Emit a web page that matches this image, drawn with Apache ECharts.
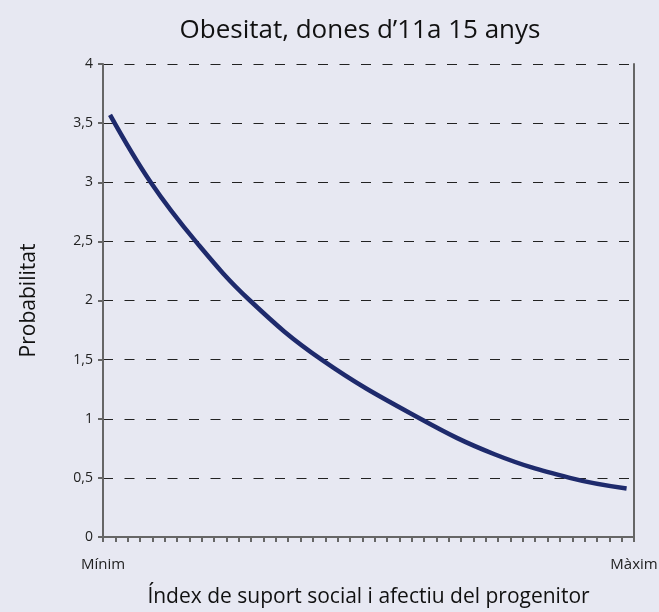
<!DOCTYPE html>
<html>
<head>
<meta charset="utf-8">
<script src="https://cdn.jsdelivr.net/npm/echarts@6/dist/echarts.min.js"></script>
<style>
  html, body { margin: 0; padding: 0; background: #e7e8f2; }
  #chart { width: 659px; height: 612px; }
</style>
</head>
<body>
<div id="chart"></div>
<script>
  // valors llegits de la figura (x en unitats de marca de l'eix, 0 = Mínim, 43 = Màxim)
  const curveX = [0.57, 3.86, 7.51, 11.9, 17.7, 25.7, 31.7, 37.8, 42.4];
  const curveY = [3.57, 3.0, 2.5, 2.0, 1.5, 1.0, 0.7, 0.5, 0.41];
  const xEndLabels = ['Mínim', 'Màxim'];
  const xTickCount = 43;
  const yTicks = [0, 0.5, 1, 1.5, 2, 2.5, 3, 3.5, 4];

  const chart = echarts.init(document.getElementById('chart'));
  const font = 'Open Sans';

  const option = {
    backgroundColor: '#e7e8f2',
    animation: false,
    title: {
      text: 'Obesitat, dones d\u201911a 15 anys',
      left: 355,
      textAlign: 'center',
      top: 13,
      textStyle: { fontFamily: font, fontSize: 26, fontWeight: 'normal', color: '#111' }
    },
    grid: { left: 103, right: 25, top: 64, bottom: 75, outerBoundsMode: 'none' },
    xAxis: {
      type: 'value',
      min: 0,
      max: xTickCount,
      interval: 1,
      name: 'Índex de suport social i afectiu del progenitor',
      nameLocation: 'middle',
      nameGap: 50,
      nameTextStyle: { fontFamily: font, fontSize: 21, color: '#111' },
      axisLine: { lineStyle: { color: '#666', width: 2 } },
      axisTick: { length: 5, lineStyle: { color: '#666', width: 2 } },
      splitLine: { show: false },
      axisLabel: {
        margin: 20,
        fontFamily: font,
        fontSize: 15,
        color: '#222',
        showMinLabel: true,
        showMaxLabel: true,
        formatter: v => v === 0 ? xEndLabels[0] : (v === xTickCount ? xEndLabels[1] : '')
      }
    },
    yAxis: [{
      type: 'value',
      min: yTicks[0],
      max: yTicks[yTicks.length - 1],
      interval: 0.5,
      name: 'Probabilitat',
      nameLocation: 'middle',
      nameRotate: 90,
      nameGap: 63,
      nameTextStyle: { fontFamily: font, fontSize: 21, color: '#111' },
      axisLine: { show: true, lineStyle: { color: '#666', width: 2 } },
      axisTick: { show: true, length: 5, lineStyle: { color: '#666', width: 2 } },
      axisLabel: {
        margin: 10,
        fontFamily: font,
        fontSize: 14,
        color: '#222',
        formatter: v => String(v).replace('.', ',')
      },
      splitLine: { show: true, lineStyle: { color: '#222', width: 1.2, type: [10, 11.5] } }
    }, {
      // vora dreta
      type: 'value',
      position: 'right',
      min: 0,
      max: 4,
      interval: 0.5,
      axisLine: { show: true, lineStyle: { color: '#666', width: 2 } },
      axisTick: { show: false },
      axisLabel: { show: false },
      splitLine: { show: false }
    }],
    series: [{
      type: 'line',
      data: curveX.map((x, i) => [x, curveY[i]]),
      smooth: 0.4,
      showSymbol: false,
      lineStyle: { color: '#1e2a6c', width: 4.5 }
    }]
  };
  chart.setOption(option);
</script>
</body>
</html>
